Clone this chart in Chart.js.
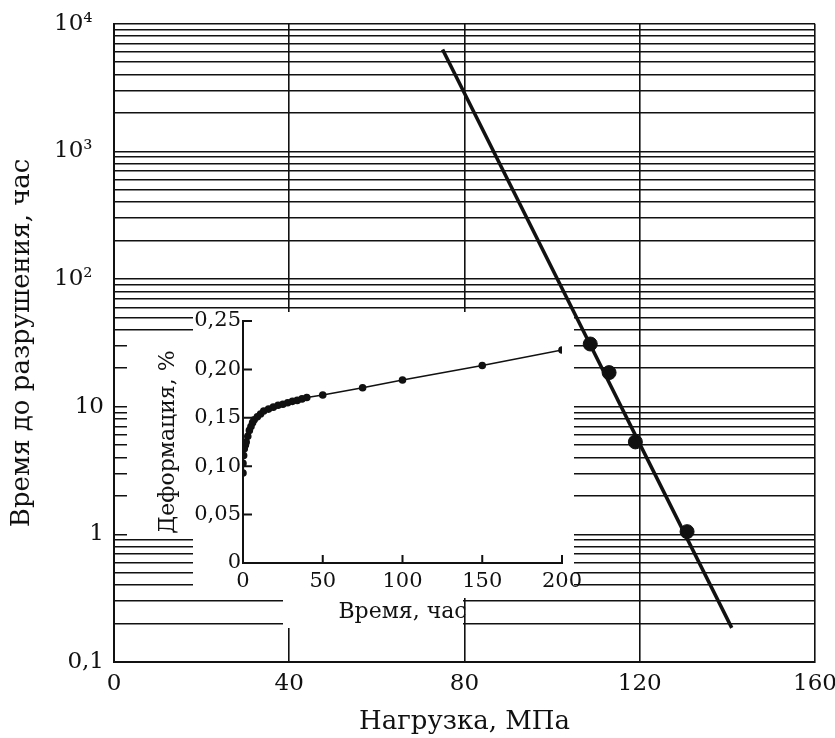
<!DOCTYPE html>
<html>
<head>
<meta charset="utf-8">
<script src="https://cdn.jsdelivr.net/npm/chart.js@4.4.0/dist/chart.umd.min.js"></script>
<style>
  body { margin: 0; background: #fff; }
  #wrap { position: relative; width: 835px; height: 738px; }
  #main { position: absolute; left: 0; top: 0; }
  #inset { position: absolute; left: 140px; top: 296px; }
</style>
</head>
<body>
<div id="wrap">
  <canvas id="main" width="835" height="738"></canvas>
  <canvas id="inset" width="445" height="330"></canvas>
</div>
<script>
// -----------------------------------------------------------------
// data

// main chart: rupture time vs load
const loadPoints = [108.7, 113.0, 119.0, 130.8];
const rupturePoints = [31, 18.5, 5.3, 1.05];
const fitLoad = [75, 141];
const fitHours = [6300, 0.185];
const loadTicks = [0, 40, 80, 120, 160];
const hourDecades = [0.1, 1, 10, 100, 1000, 10000];
const hourTickLabels = ['0,1', '1', '10', '10²\u2002', '10³\u2002', '10⁴\u2002'];

// inset: creep curve
const creepHours = [0, 0, 0.4, 0.8, 1.5, 2, 3, 4, 5, 6, 7, 9, 11, 13, 16, 19, 22, 25, 28, 31, 34, 37, 40, 50, 75, 100, 150, 200];
const creepStrain = [0.093, 0.103, 0.111, 0.118, 0.122, 0.125, 0.131, 0.137, 0.141, 0.145, 0.148, 0.151, 0.154, 0.157, 0.159, 0.161, 0.163, 0.164, 0.1655, 0.167, 0.168, 0.1695, 0.171, 0.1735, 0.181, 0.189, 0.204, 0.220];
const strainTicks = [0, 0.05, 0.10, 0.15, 0.20, 0.25];
const strainTickLabels = ['0', '0,05', '0,10', '0,15', '0,20', '0,25'];
const timeTicks = [0, 50, 100, 150, 200];

// -----------------------------------------------------------------
const SERIF = '"DejaVu Serif", "Liberation Serif", serif';
const INK = '#111';

// all 1..9 lines of every decade
const logGrid = [];
hourDecades.slice(0, -1).forEach((d) => {
  for (let k = 1; k <= 9; k++) logGrid.push(d * k);
});
logGrid.push(hourDecades[hourDecades.length - 1]);

// white areas behind the inset (in load / hours units)
const insetMasks = [
  { x0: 3, x1: 18, y0: 0.95, y1: 35 },
  { x0: 18, x1: 38.6, y0: 0.32, y1: 55 },
  { x0: 38.6, x1: 79.6, y0: 0.186, y1: 55 },
  { x0: 79.6, x1: 105, y0: 0.32, y1: 55 },
];

const maskPlugin = {
  id: 'insetMask',
  beforeDatasetsDraw(chart) {
    const { ctx, scales: { x, y } } = chart;
    ctx.save();
    ctx.fillStyle = '#fff';
    ctx.beginPath();
    insetMasks.forEach((m) => {
      const left = Math.round(x.getPixelForValue(m.x0));
      const right = Math.round(x.getPixelForValue(m.x1));
      const top = Math.round(y.getPixelForValue(m.y1));
      const bottom = Math.round(y.getPixelForValue(m.y0));
      ctx.rect(left, top, right - left, bottom - top);
    });
    ctx.fill();
    ctx.restore();
  },
};

new Chart(document.getElementById('main'), {
  type: 'scatter',
  data: {
    datasets: [
      {
        data: fitLoad.map((v, i) => ({ x: v, y: fitHours[i] })),
        showLine: true,
        borderColor: INK,
        borderWidth: 3.5,
        pointRadius: 0,
      },
      {
        data: loadPoints.map((v, i) => ({ x: v, y: rupturePoints[i] })),
        backgroundColor: INK,
        borderColor: INK,
        pointRadius: 7,
      },
    ],
  },
  options: {
    responsive: false,
    animation: false,
    layout: { padding: { top: 22, right: 20, left: 0, bottom: 0 } },
    plugins: { legend: { display: false }, tooltip: { enabled: false } },
    scales: {
      x: {
        type: 'linear',
        min: 0,
        max: 160,
        afterBuildTicks: (scale) => { scale.ticks = loadTicks.map((v) => ({ value: v })); },
        afterFit: (scale) => {
          scale.height = 76;
          scale.paddingLeft = 0;
          scale.paddingRight = 0;
        },
        ticks: { font: { family: SERIF, size: 23 }, color: INK, padding: 8, maxRotation: 0 },
        grid: { color: INK, lineWidth: 1.6, drawTicks: false },
        border: { display: true, color: INK, width: 2 },
        title: {
          display: true,
          text: 'Нагрузка, МПа',
          font: { family: SERIF, size: 26 },
          color: INK,
          padding: { top: 0, bottom: 0 },
        },
      },
      y: {
        type: 'logarithmic',
        min: 0.1,
        max: 10000,
        afterBuildTicks: (scale) => { scale.ticks = logGrid.map((v) => ({ value: v })); },
        afterFit: (scale) => { scale.width = 114; },
        ticks: {
          autoSkip: false,
          font: { family: SERIF, size: 23 },
          color: INK,
          padding: 10,
          callback: (v) => {
            const i = hourDecades.indexOf(v);
            return i >= 0 ? hourTickLabels[i] : '';
          },
        },
        grid: { color: INK, lineWidth: 1.6, drawTicks: false },
        border: { display: true, color: INK, width: 2 },
        title: {
          display: true,
          text: 'Время до разрушения, час',
          font: { family: SERIF, size: 26 },
          color: INK,
          padding: { top: 7, bottom: 0 },
        },
      },
    },
  },
  plugins: [maskPlugin],
});

// -----------------------------------------------------------------
// inset: ticks point inwards
const inwardTicks = {
  id: 'inwardTicks',
  afterDraw(chart) {
    const { ctx, scales: { x, y } } = chart;
    ctx.save();
    ctx.strokeStyle = INK;
    ctx.lineWidth = 2;
    ctx.beginPath();
    timeTicks.slice(1).forEach((t) => {
      const px = x.getPixelForValue(t);
      ctx.moveTo(px, y.bottom);
      ctx.lineTo(px, y.bottom - 8);
    });
    strainTicks.slice(1).forEach((s) => {
      const py = y.getPixelForValue(s);
      ctx.moveTo(x.left, py);
      ctx.lineTo(x.left + 9, py);
    });
    ctx.stroke();
    ctx.restore();
  },
};

new Chart(document.getElementById('inset'), {
  type: 'scatter',
  data: {
    datasets: [
      {
        data: creepHours.map((t, i) => ({ x: t, y: creepStrain[i] })),
        showLine: true,
        borderColor: INK,
        borderWidth: 1.6,
        backgroundColor: INK,
        pointRadius: 3,
      },
    ],
  },
  options: {
    responsive: false,
    animation: false,
    layout: { padding: { top: 25, right: 23, left: 0, bottom: 0 } },
    plugins: { legend: { display: false }, tooltip: { enabled: false } },
    scales: {
      x: {
        type: 'linear',
        min: 0,
        max: 200,
        afterBuildTicks: (scale) => { scale.ticks = timeTicks.map((v) => ({ value: v })); },
        afterFit: (scale) => {
          scale.height = 63;
          scale.paddingLeft = 0;
          scale.paddingRight = 0;
        },
        ticks: { font: { family: SERIF, size: 21 }, color: INK, padding: 6, maxRotation: 0 },
        grid: { display: false, drawTicks: false },
        border: { display: true, color: INK, width: 2 },
        title: {
          display: true,
          text: 'Время, час',
          font: { family: SERIF, size: 22 },
          color: INK,
          padding: { top: 0, bottom: 1 },
        },
      },
      y: {
        type: 'linear',
        min: 0,
        max: 0.25,
        afterBuildTicks: (scale) => { scale.ticks = strainTicks.map((v) => ({ value: v })); },
        afterFit: (scale) => {
          scale.width = 103;
          scale.paddingTop = 0;
          scale.paddingBottom = 0;
        },
        ticks: {
          font: { family: SERIF, size: 21 },
          color: INK,
          padding: 2,
          callback: (v) => strainTickLabels[strainTicks.indexOf(v)],
        },
        grid: { display: false, drawTicks: false },
        border: { display: true, color: INK, width: 2 },
        title: {
          display: true,
          text: 'Деформация, %',
          font: { family: SERIF, size: 22 },
          color: INK,
          padding: { top: 15, bottom: 0 },
        },
      },
    },
  },
  plugins: [inwardTicks],
});
</script>
</body>
</html>
